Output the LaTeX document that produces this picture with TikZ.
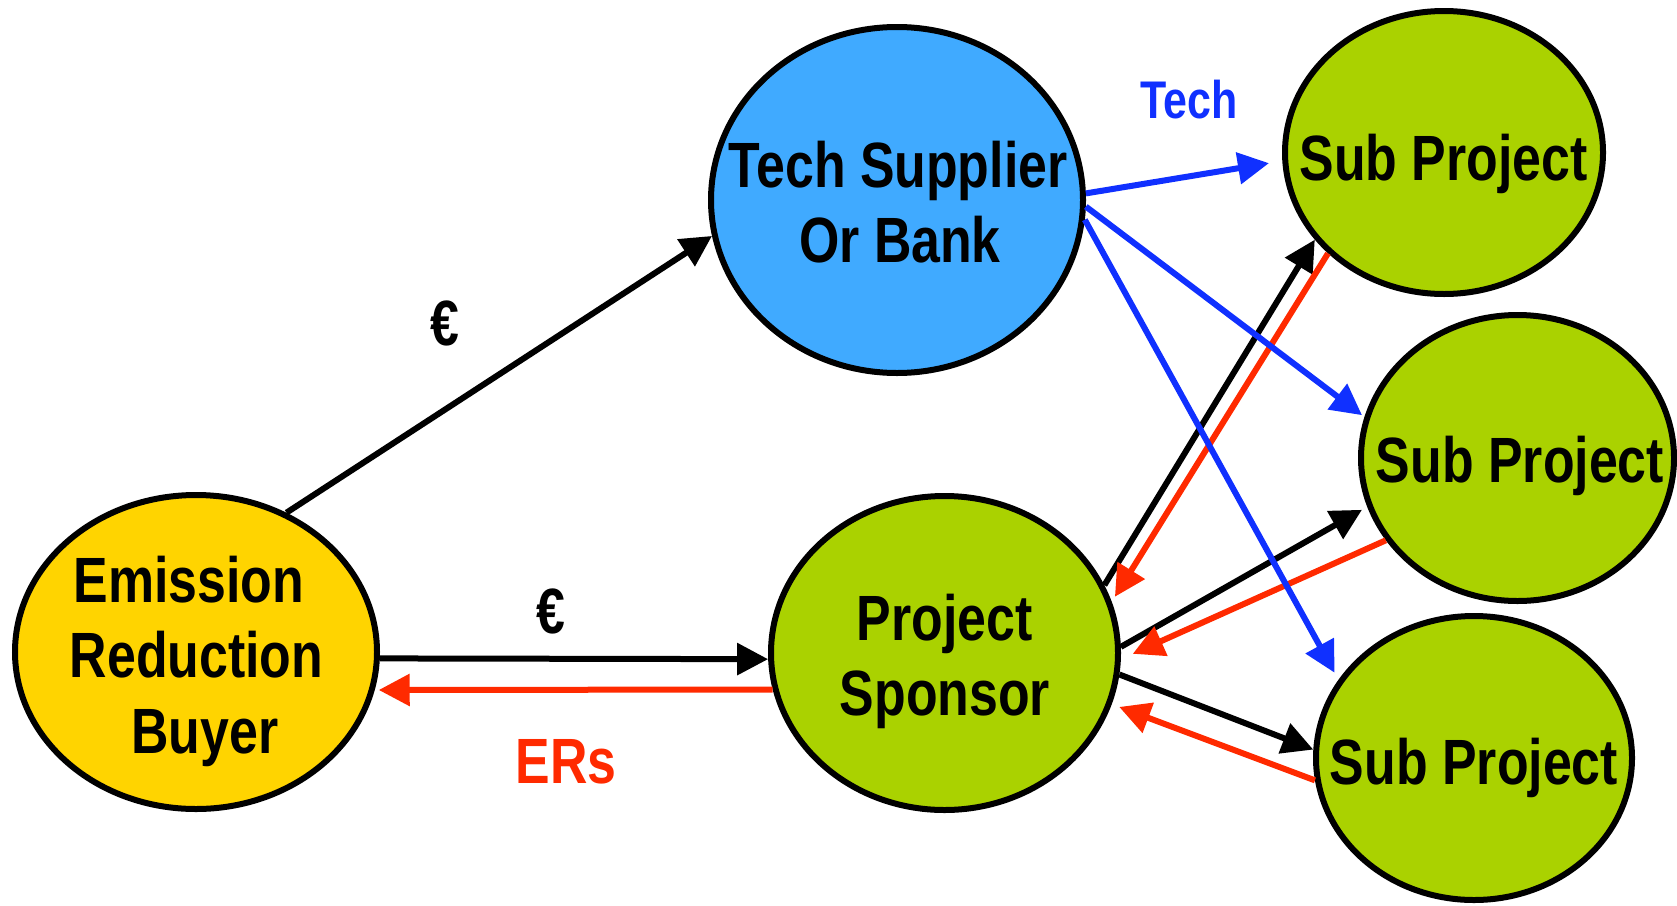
\documentclass[tikz,border=0pt]{standalone}
\usepackage{fontspec}
\newfontfamily\labfont[FakeStretch=0.81]{Liberation Sans}
\usetikzlibrary{arrows.meta,shapes.geometric}
\definecolor{buyerY}{HTML}{FFD400}
\definecolor{techB}{HTML}{40AAFF}
\definecolor{projG}{HTML}{AAD200}
\definecolor{arrB}{HTML}{1030FF}
\definecolor{erRed}{HTML}{FF2A00}
\begin{document}
\begin{tikzpicture}[x=1pt,y=-1pt,
  bubble/.style={ellipse, draw=black, line width=6pt, inner sep=0pt, outer sep=3pt},
  lab/.style={inner sep=0pt, anchor=base, font=\labfont\bfseries\fontsize{64pt}{75pt}\selectfont},
  smalllab/.style={inner sep=0pt, anchor=base, font=\labfont\bfseries\fontsize{53pt}{60pt}\selectfont},
  flow/.style={line width=6pt, -{Triangle[length=31pt,width=31pt]}},
]
\useasboundingbox (0,0) rectangle (1677,905);
% bubbles
\node[bubble, fill=buyerY, minimum width=362pt, minimum height=314pt] (buyer) at (196,652) {};
\node[bubble, fill=techB, minimum width=372pt, minimum height=346pt] (tech) at (897,200) {};
\node[bubble, fill=projG, minimum width=347pt, minimum height=314pt] (sponsor) at (944.5,653) {};
\node[bubble, fill=projG, minimum width=318pt, minimum height=283pt] (sub1) at (1444,152.5) {};
\node[bubble, fill=projG, minimum width=313pt, minimum height=286pt] (sub2) at (1517.5,458) {};
\node[bubble, fill=projG, minimum width=316pt, minimum height=284pt] (sub3) at (1474,758) {};
% texts
\node[lab] (buyerA) at (189,602) {Emission};
\node[lab] (buyerB) at (196.5,677) {Reduction};
\node[lab] (buyerC) at (205,753) {Buyer};
\node[lab] (techA) at (898,187) {Tech Supplier};
\node[lab] (techB) at (900,262) {Or Bank};
\node[lab] (sponA) at (944.5,640) {Project};
\node[lab] (sponB) at (945,715) {Sponsor};
\node[lab] (subA) at (1443.5,180) {Sub Project};
\node[lab] (subB) at (1520,482) {Sub Project};
\node[lab] (subC) at (1474,784) {Sub Project};
\node[lab] (euroA) at (445,345) {€};
\node[lab] (euroB) at (551,633) {€};
\node[lab, text=erRed] (ers) at (566,783) {ERs};
\node[smalllab, text=arrB] (techlab) at (1189,118) {Tech};
% black flows
\draw[flow] (buyer.57.3) -- (tech.191.5);
\draw[flow] (buyer.-2.8) -- (sponsor.182.6);
\draw[flow] (sponsor.23.35) -- (sub1.214.15);
\draw[flow, shorten >=6pt] (sponsor.2.6) -- (sub2.198.9);
\draw[flow] (sponsor.-7.2) -- (sub3.177.2);
% red flows
\draw[flow, erRed, shorten >=4pt] (sponsor.192.8) -- (buyer.-12.65);
\draw[flow, erRed, shorten >=6pt] (sub1.221.4) -- (sponsor.17);
\draw[flow, erRed, shorten >=13pt] (sub2.212.5) -- (sponsor.-2.4);
\draw[flow, erRed, shorten >=8pt] (sub3.188.9) -- (sponsor.-17.5);
% blue flows
\draw[flow, arrB, shorten >=13.5pt] (tech.2.1) -- (sub1.183.4);
\draw[flow, arrB, shorten >=3pt] (tech.-2.4) -- (sub2.165.4);
\draw[flow, arrB, shorten >=8pt] (tech.-6.87) -- (sub3.150.2);
\end{tikzpicture}
\end{document}
